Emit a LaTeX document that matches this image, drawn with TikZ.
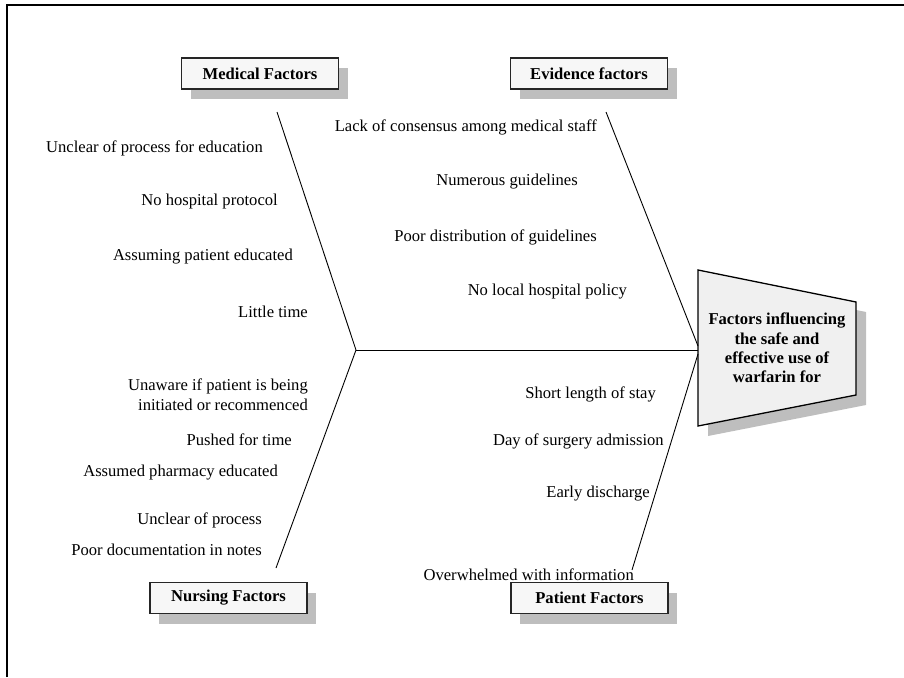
\documentclass[tikz,border=0pt]{standalone}
\usepackage{fontspec}
\setmainfont{Liberation Serif}
\usetikzlibrary{shadows}
\definecolor{shadowgray}{RGB}{190,190,190}
\definecolor{boxfill}{RGB}{247,247,247}
\definecolor{headfill}{RGB}{240,240,240}
\begin{document}
\begin{tikzpicture}[x=1pt,y=-1pt,
  cat/.style={draw=black!85, line width=1.5pt, fill=boxfill, minimum width=157pt, minimum height=31pt,
    inner sep=0pt, font=\bfseries\fontsize{16.6}{19}\selectfont,
    drop shadow={shadow xshift=9pt, shadow yshift=-10pt, fill=shadowgray, opacity=1}},
  cause/.style={anchor=east, inner sep=0pt, align=right, font=\fontsize{16.6}{20}\selectfont},
  bone/.style={line width=0.9pt, black}]
\useasboundingbox (0,0) rectangle (904,677);
% frame
\draw[line width=2.6pt] (7,677) -- (7,5) -- (904,5);

% category boxes
\node[cat] (med) at (260,73.5) {Medical Factors};
\node[cat] (evi) at (589,73.5) {Evidence factors};
\node[cat] (nur) at (228.5,598) {Nursing Factors};
\node[cat] (pat) at (589.5,598) {Patient Factors};

% head
\fill[shadowgray] (708,280) -- (866,312) -- (866,405) -- (708,436) -- cycle;
\draw[line width=1.3pt, fill=headfill] (698,270) -- (856,302) -- (856,395) -- (698,426) -- cycle;
\node[align=center, inner sep=0pt, font=\bfseries\fontsize{16.6}{19.3}\selectfont] (head) at (777,348)
  {Factors influencing\\the safe and\\effective use of\\warfarin for};

% bone coordinates
\coordinate (mtop) at (277,112);
\coordinate (etop) at (606,112);
\coordinate (nbot) at (276,568);
\coordinate (pbot) at (632,570);
\coordinate (jl) at (356,350);
\coordinate (hu) at (698,346);
\coordinate (hm) at (698,350);
\coordinate (hd) at (698,354);

\draw[bone] (mtop) -- (jl);
\draw[bone] (jl) -- (nbot);
\draw[bone] (jl) -- (hm);
\draw[bone] (etop) -- (hu);
\draw[bone] (hd) -- (pbot);

% medical causes
\node[cause] (m1) at (263,148) {Unclear of process for education};
\node[cause] (m2) at (278,202) {No hospital protocol};
\node[cause] (m3) at (293,257) {Assuming patient educated};
\node[cause] (m4) at (308,312) {Little time};

% evidence causes
\node[cause] (e1) at (597,127) {Lack of consensus among medical staff};
\node[cause] (e2) at (578,182) {Numerous guidelines};
\node[cause] (e3) at (597,237) {Poor distribution of guidelines};
\node[cause] (e4) at (627,292) {No local hospital policy};

% nursing causes
\node[cause] (n1) at (308,395) {Unaware if patient is being\\initiated or recommenced};
\node[cause] (n2) at (292,440) {Pushed for time};
\node[cause] (n3) at (278,473) {Assumed pharmacy educated};
\node[cause] (n4) at (262,520) {Unclear of process};
\node[cause] (n5) at (262,550) {Poor documentation in notes};

% patient causes
\node[cause] (p1) at (656,394) {Short length of stay};
\node[cause] (p2) at (664,441) {Day of surgery admission};
\node[cause] (p3) at (650,494) {Early discharge};
\node[cause] (p4) at (634,575) {Overwhelmed with information};
\end{tikzpicture}
\end{document}
